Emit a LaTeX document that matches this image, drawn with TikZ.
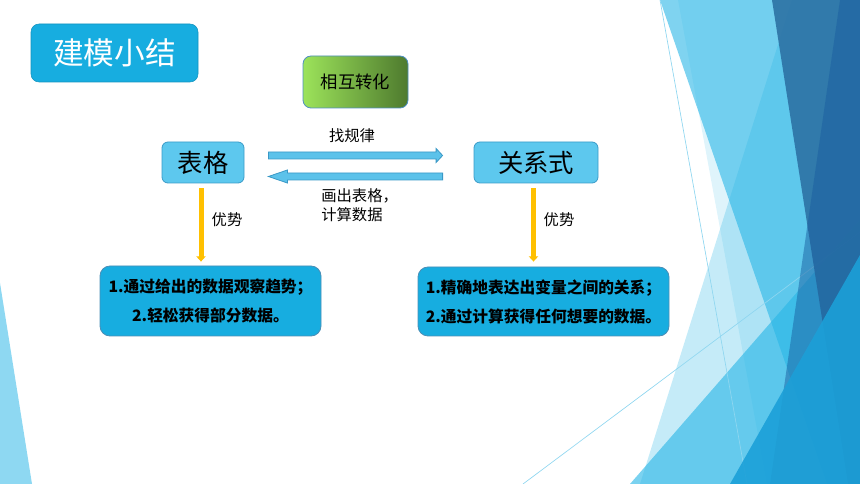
\documentclass[tikz,border=0pt]{standalone}
\usepackage{fontspec}
\setmainfont{Noto Sans CJK SC}
\usetikzlibrary{calc,arrows.meta}
\definecolor{titleblue}{HTML}{17ADE0}
\definecolor{boxlight}{HTML}{5DC8EE}
\definecolor{boxborder}{HTML}{3A9BC8}
\definecolor{arrfill}{HTML}{5CC2EA}
\definecolor{arrborder}{HTML}{3A98C6}
\definecolor{gold}{HTML}{FFC000}
\definecolor{greenL}{HTML}{9CE35A}
\definecolor{greenR}{HTML}{4E7A2E}
\definecolor{greenborder}{HTML}{4F8FC0}
\definecolor{btmborder}{HTML}{4A8EB6}
\definecolor{decoA}{HTML}{29B6E6}
\definecolor{decoB}{HTML}{1CA0D8}
\definecolor{decoD}{HTML}{2E74A6}
\definecolor{decoE}{HTML}{1A5FA0}
\definecolor{leftdeco}{HTML}{8ED8F2}
\definecolor{thinl}{HTML}{8FD6F0}
\tikzset{
  titlebox/.style={fill=titleblue, draw=titleblue!85!black, line width=0.4pt, rounded corners=6pt,
    minimum width=125.25pt, minimum height=43.5pt, text=white, font=\fontsize{23pt}{26pt}\selectfont, inner sep=0pt},
  greenbox/.style={left color=greenL, right color=greenR, draw=greenborder, line width=0.6pt, rounded corners=6pt,
    minimum width=78.75pt, minimum height=39pt, font=\fontsize{13pt}{15pt}\selectfont, inner sep=0pt},
  keybox/.style={fill=boxlight, draw=boxborder, line width=0.6pt, rounded corners=4.5pt,
    minimum height=30.75pt, font=\fontsize{19pt}{21pt}\selectfont, inner sep=0pt},
  btmbox/.style={fill=titleblue, draw=btmborder, line width=0.6pt, rounded corners=7.5pt,
    align=center, font=\fontsize{11.8pt}{21.75pt}\selectfont\bfseries, inner sep=0pt},
  lbl/.style={font=\fontsize{11.5pt}{14pt}\selectfont, inner sep=0pt},
  blk/.style={fill=arrfill, draw=arrborder, line width=0.6pt, line join=miter},
  yarrow/.style={draw=gold, line width=3.75pt, -{Triangle[length=4pt,width=7pt]}},
  thinline/.style={draw=thinl, line width=0.5pt}
}
\begin{document}
\begin{tikzpicture}[x=0.75pt,y=-0.75pt]
\useasboundingbox (0,0) rectangle (860,484);
% background decoration
\fill[leftdeco] (0,283) -- (32,484) -- (0,484) -- cycle;
\fill[decoA, opacity=.6] (660,0) -- (860,0) -- (860,484) -- (827,484) -- cycle;
\fill[decoA, opacity=.15] (678,0) -- (860,0) -- (860,484) -- (767,484) -- cycle;
\fill[decoA, opacity=.27] (792,0) -- (860,0) -- (860,484) -- (640,484) -- cycle;
\fill[decoA, opacity=.62] (630,484) -- (860,220) -- (860,484) -- cycle;
\draw[thinline] (660,0) -- (747,484);
\draw[thinline] (523,484) -- (860,232);
\fill[decoD, opacity=.92] (772,0) -- (860,0) -- (860,484) -- (848,484) -- cycle;
\fill[decoE, opacity=.5] (840,0) -- (860,0) -- (860,484) -- (770,484) -- cycle;
\fill[decoB, opacity=.9] (730,484) -- (860,255) -- (860,484) -- cycle;
% nodes
\node[titlebox] (title) at (114.5,53) {建模小结};
\node[greenbox] (zh) at (355.5,82) {相互转化};
\node[keybox, minimum width=61.5pt] (biaoge) at (203,162.5) {表格};
\node[keybox, minimum width=93pt] (guanxi) at (536,162.5) {关系式};
\node[btmbox, minimum width=165.75pt, minimum height=52.5pt] (lbox) at (210.5,301)
  {1.通过给出的数据观察趋势；\\2.轻松获得部分数据。};
\node[btmbox, minimum width=188.25pt, minimum height=51.75pt] (rbox) at (543.5,301.5)
  {1.精确地表达出变量之间的关系；\\2.通过计算获得任何想要的数据。};
% block arrows
\coordinate (r1) at ($(biaoge.east)+(24,-7)$);
\coordinate (r2) at ($(guanxi.west)+(-31,-7)$);
\coordinate (l1) at ($(guanxi.west)+(-31,14)$);
\coordinate (l2) at ($(biaoge.east)+(24,14)$);
\draw[blk] ($(r1)+(0,-3.5)$) -- ($(r2)+(-6.5,-3.5)$) -- ($(r2)+(-6.5,-7)$) -- (r2)
  -- ($(r2)+(-6.5,7)$) -- ($(r2)+(-6.5,3.5)$) -- ($(r1)+(0,3.5)$) -- cycle;
\draw[blk] ($(l1)+(0,-3.5)$) -- ($(l2)+(19,-3.5)$) -- ($(l2)+(19,-6.5)$) -- (l2)
  -- ($(l2)+(19,6.5)$) -- ($(l2)+(19,3.5)$) -- ($(l1)+(0,3.5)$) -- cycle;
\node[lbl] (zgl) at (352,136) {找规律};
\node[lbl, anchor=west, align=left] (hcb) at (321,205.5) {画出表格，\\计算数据};
% yellow arrows
\draw[yarrow] ($(biaoge.south)+(-2,5)$) -- ($(biaoge.south |- lbox.north)+(-2,-4)$);
\draw[yarrow] ($(guanxi.south)+(-2.5,5)$) -- ($(guanxi.south |- rbox.north)+(-2.5,-5)$);
\node[lbl] (ys1) at (227,220) {优势};
\node[lbl] (ys2) at (559,220) {优势};
\end{tikzpicture}
\end{document}
